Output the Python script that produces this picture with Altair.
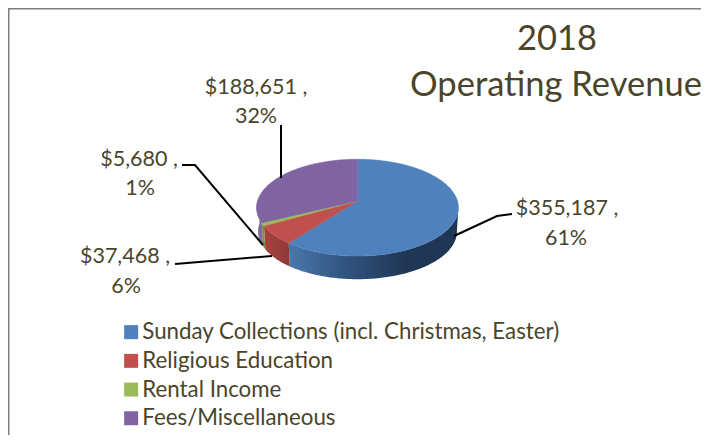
import math
import altair as alt
import pandas as pd

categories = ["Sunday Collections (incl. Christmas, Easter)", "Religious Education", "Rental Income", "Fees/Miscellaneous"]
values = [355187, 37468, 5680, 188651]
percents = ["61%", "6%", "1%", "32%"]
top_colors = ["#4f81bd", "#c0504d", "#9bbb59", "#8064a2"]
wall_fills = [
    {"gradient": "linear", "x1": 0, "y1": 0, "x2": 1, "y2": 0,
     "stops": [{"offset": 0, "color": "#4a78ad"}, {"offset": 0.35, "color": "#30527d"},
               {"offset": 0.7, "color": "#1f3654"}, {"offset": 1, "color": "#1f3654"}]},
    {"gradient": "linear", "x1": 0, "y1": 0, "x2": 1, "y2": 0,
     "stops": [{"offset": 0, "color": "#a9433f"}, {"offset": 1, "color": "#8c3a38"}]},
    "#76923c",
    "#7d6b9c",
]

CX, CY, R, B, K, DEPTH, WALL_SCALE = 357.5, 201, 100, 47.5, 0.137, 24, 0.985
FONT = "Lato"
TEXT = "#4a452a"
W, H = 693, 427
xs = alt.Scale(domain=[8, 8 + W], range=[0, W], nice=False, zero=False)
ys = alt.Scale(domain=[8 + H, 8], range=[H, 0], nice=False, zero=False)


def project(theta, wall=False):
    u, v = math.sin(theta), -math.cos(theta)
    d = 1 - K * v
    s = WALL_SCALE if wall else 1
    return CX + R * s * u / d, CY + B * s * v / d + (DEPTH if wall else 0)


def arc_thetas(a, b):
    n = max(2, int(abs(b - a) * 60))
    return [a + (b - a) * i / n for i in range(n + 1)]


total = sum(values)
edges = [0]
for val in values:
    edges.append(edges[-1] + val / total * 2 * math.pi)

top_rows, wall_rows = [], []
for i, cat in enumerate(categories):
    pts = [(CX, CY)] + [project(t) for t in arc_thetas(edges[i], edges[i + 1])] + [(CX, CY)]
    for j, (x, y) in enumerate(pts):
        top_rows.append({"cat": cat, "x": x, "y": y, "o": j})
    lo, hi = max(edges[i], math.radians(97)), min(edges[i + 1], math.radians(272))
    if hi > lo:
        ts = arc_thetas(lo, hi)
        pts = [project(t) for t in ts] + [project(t, True) for t in reversed(ts)]
        pts.append(pts[0])
        for j, (x, y) in enumerate(pts):
            wall_rows.append({"cat": cat, "idx": i, "x": x, "y": y, "o": j})
top_df = pd.DataFrame(top_rows)
wall_df = pd.DataFrame(wall_rows)

X = alt.X("x:Q", scale=xs, axis=None)
Y = alt.Y("y:Q", scale=ys, axis=None)

layers = []
border = pd.DataFrame({"x": [8 + W, 8.5, 8.5], "y": [8.5, 8.5, 8 + H], "o": [0, 1, 2]})
layers.append(alt.Chart(border).mark_line(color="#7f7f7f", strokeWidth=2).encode(x=X, y=Y, order="o:Q"))

for i in range(4):
    sub = wall_df[wall_df.idx == i]
    if len(sub):
        layers.append(alt.Chart(sub).mark_line(fill=wall_fills[i], strokeWidth=0).encode(x=X, y=Y, order="o:Q"))

color_scale = alt.Scale(domain=categories, range=top_colors)
legend = alt.Legend(title=None, orient="none", legendX=112, legendY=313, symbolType="square", symbolSize=196,
                    symbolStrokeWidth=0, labelFont=FONT, labelFontSize=22.3, labelColor=TEXT, labelLimit=600,
                    rowPadding=5.7, labelOffset=0, symbolOpacity=1)
layers.append(
    alt.Chart(top_df).mark_line(strokeWidth=0.5).encode(
        x=X, y=Y, order="o:Q",
        fill=alt.Fill("cat:N", scale=color_scale, legend=legend, sort=categories),
        stroke=alt.Stroke("cat:N", scale=color_scale, legend=None, sort=categories),
    )
)

leaders = pd.DataFrame([
    {"id": 0, "x": 454, "y": 236, "o": 0}, {"id": 0, "x": 497, "y": 216, "o": 1}, {"id": 0, "x": 512, "y": 214, "o": 2},
    {"id": 1, "x": 272, "y": 256, "o": 0}, {"id": 1, "x": 175, "y": 264, "o": 1},
    {"id": 2, "x": 263, "y": 245, "o": 0}, {"id": 2, "x": 195, "y": 165, "o": 1}, {"id": 2, "x": 182, "y": 165, "o": 2},
    {"id": 3, "x": 281, "y": 178, "o": 0}, {"id": 3, "x": 281, "y": 125, "o": 1},
])
layers.append(alt.Chart(leaders).mark_line(color="#000000", strokeWidth=2).encode(x=X, y=Y, order="o:Q", detail="id:N"))

amounts = [f"${v:,} ," for v in values]
labels = pd.DataFrame([
    {"t": amounts[0], "x": 567, "y": 209}, {"t": percents[0], "x": 566, "y": 239},
    {"t": amounts[1], "x": 125, "y": 257}, {"t": percents[1], "x": 126, "y": 287},
    {"t": amounts[2], "x": 139, "y": 160}, {"t": percents[2], "x": 140, "y": 189},
    {"t": amounts[3], "x": 256, "y": 88}, {"t": percents[3], "x": 256, "y": 117},
])
layers.append(alt.Chart(labels).mark_text(font=FONT, fontSize=21.5, color=TEXT, align="center", baseline="middle").encode(x=X, y=Y, text="t:N"))

titles = pd.DataFrame([{"t": "2018", "x": 557, "y": 40}, {"t": "Operating Revenue", "x": 556, "y": 86}])
layers.append(alt.Chart(titles).mark_text(font=FONT, fontSize=34.5, color=TEXT, align="center", baseline="middle").encode(x=X, y=Y, text="t:N"))

chart = alt.layer(*layers).resolve_scale(fill="shared", stroke="shared").properties(
    width=W, height=H, padding=0, autosize=alt.AutoSizeParams(type="none"), background="#ffffff"
).configure_view(stroke=None)

chart.save("out.html", embed_options={"renderer": "svg", "actions": False})
